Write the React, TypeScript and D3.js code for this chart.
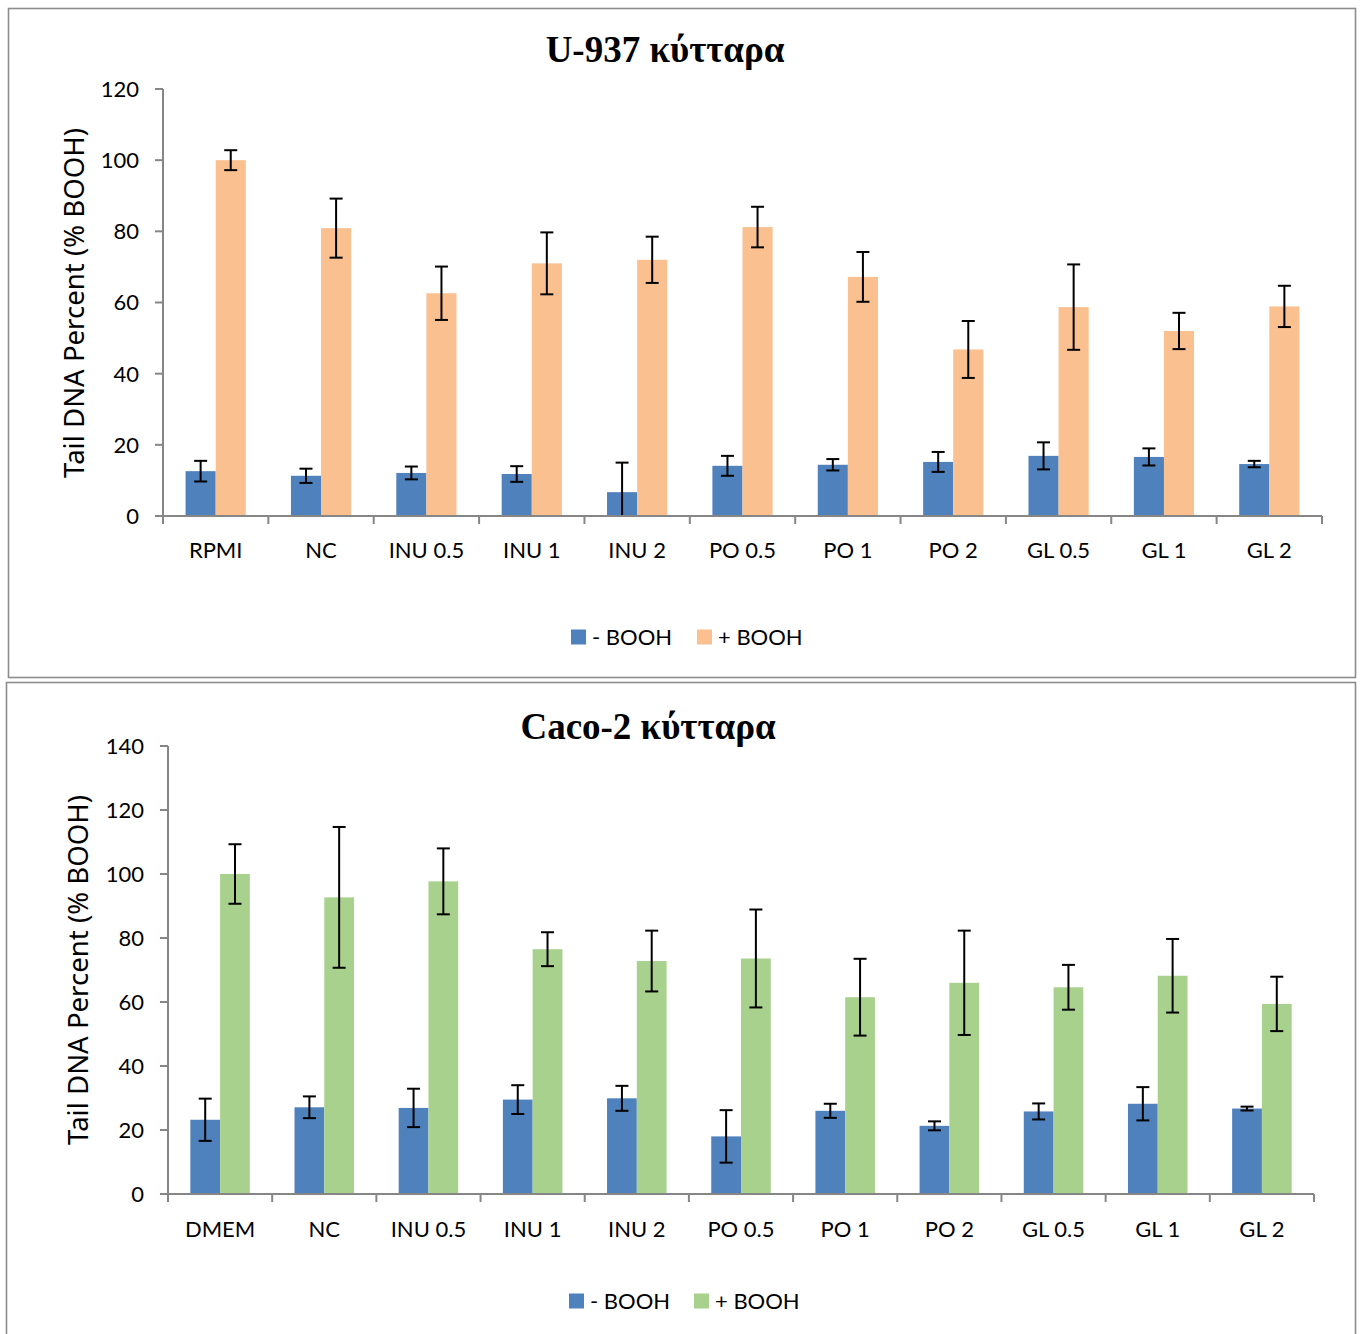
import React from "react";
import * as d3 from "d3";

// Comet assay results: tail DNA percent, without / with BOOH treatment
const u937Categories = ["RPMI", "NC", "INU 0.5", "INU 1", "INU 2", "PO 0.5", "PO 1", "PO 2", "GL 0.5", "GL 1", "GL 2"];
const u937Minus = [12.6, 11.3, 12.1, 11.8, 6.7, 14.1, 14.4, 15.2, 16.9, 16.6, 14.6];
const u937MinusErr = [2.9, 2.0, 1.8, 2.2, 8.3, 2.8, 1.6, 2.8, 3.8, 2.4, 0.9];
const u937Plus = [100, 80.9, 62.6, 71.0, 72.0, 81.2, 67.2, 46.8, 58.7, 52.0, 58.9];
const u937PlusErr = [2.8, 8.3, 7.5, 8.7, 6.5, 5.7, 7.0, 8.0, 12.0, 5.1, 5.8];
const u937Ticks = [0, 20, 40, 60, 80, 100, 120];

const caco2Categories = ["DMEM", "NC", "INU 0.5", "INU 1", "INU 2", "PO 0.5", "PO 1", "PO 2", "GL 0.5", "GL 1", "GL 2"];
const caco2Minus = [23.2, 27.1, 26.9, 29.5, 29.9, 18.0, 26.0, 21.3, 25.8, 28.2, 26.7];
const caco2MinusErr = [6.6, 3.4, 6.0, 4.5, 3.9, 8.2, 2.2, 1.4, 2.5, 5.2, 0.6];
const caco2Plus = [100, 92.7, 97.7, 76.5, 72.8, 73.6, 61.5, 66.0, 64.6, 68.2, 59.4];
const caco2PlusErr = [9.3, 22.0, 10.3, 5.3, 9.5, 15.3, 12.0, 16.3, 7.0, 11.5, 8.5];
const caco2Ticks = [0, 20, 40, 60, 80, 100, 120, 140];

const seriesNames = ["- BOOH", "+ BOOH"];
const yAxisTitle = "Tail DNA Percent (% BOOH)";

const BLUE = "#4F81BD";
const ORANGE = "#FAC090";
const GREEN = "#A9D18E";
const AXIS = "#868686";
const FRAME = "#8C8C8C";
const LABEL_FONT = "Lato, 'Open Sans', sans-serif";
const TITLE_FONT = "'Liberation Serif', 'DejaVu Serif', serif";
const AXIS_TITLE_FONT = "'Noto Sans', 'Open Sans', sans-serif";

type PanelProps = {
  title: string;
  categories: string[];
  minus: number[];
  minusErr: number[];
  plus: number[];
  plusErr: number[];
  ticks: number[];
  plusColor: string;
  frame: { x: number; y: number; w: number; h: number };
  left: number;
  right: number;
  bottom: number;
  top: number;
  titleX: number;
  titleY: number;
  axisTitleX: number;
  axisTitleY: number;
  tickLabelX: number;
  catLabelY: number;
  legendY: number;
  legendX: number[];
};

function Panel(p: PanelProps) {
  const yMax = p.ticks[p.ticks.length - 1];
  const y = d3.scaleLinear().domain([0, yMax]).range([p.bottom, p.top]);
  const x0 = d3.scaleBand<string>().domain(p.categories).range([p.left, p.right]).paddingInner(0).paddingOuter(0);
  const step = x0.step();
  // two bars per group, gap equal to 150% of a bar width
  const x1 = d3
    .scaleBand<string>()
    .domain(["minus", "plus"])
    .range([(step * 0.75) / 3.5, (step * 2.75) / 3.5])
    .padding(0);
  const bw = x1.bandwidth();
  const capHalf = 6.5;

  const series = [
    { key: "minus", values: p.minus, errs: p.minusErr, color: BLUE },
    { key: "plus", values: p.plus, errs: p.plusErr, color: p.plusColor },
  ];

  const boundaries = d3.range(p.categories.length + 1).map((i) => p.left + i * step);

  return (
    <g>
      <rect x={p.frame.x} y={p.frame.y} width={p.frame.w} height={p.frame.h} fill="#fff" stroke={FRAME} strokeWidth={1.6} />
      <text
        x={p.titleX}
        y={p.titleY}
        textAnchor="middle"
        fontFamily={TITLE_FONT}
        fontWeight="bold"
        fontSize={37}
        fill="#000"
      >
        {p.title}
      </text>

      {/* bars */}
      {series.map((s) =>
        p.categories.map((c, i) => (
          <rect
            key={s.key + c}
            x={(x0(c) as number) + (x1(s.key) as number)}
            y={y(s.values[i])}
            width={bw}
            height={y(0) - y(s.values[i])}
            fill={s.color}
          />
        ))
      )}

      {/* error bars */}
      {series.map((s) =>
        p.categories.map((c, i) => {
          const cx = (x0(c) as number) + (x1(s.key) as number) + bw / 2;
          const hiV = s.values[i] + s.errs[i];
          const loRaw = s.values[i] - s.errs[i];
          const lo = Math.max(0, loRaw);
          return (
            <g key={"e" + s.key + c} stroke="#000" strokeWidth={2}>
              <line x1={cx} x2={cx} y1={y(hiV)} y2={y(lo)} />
              <line x1={cx - capHalf} x2={cx + capHalf} y1={y(hiV)} y2={y(hiV)} />
              {loRaw >= 0 && <line x1={cx - capHalf} x2={cx + capHalf} y1={y(lo)} y2={y(lo)} />}
            </g>
          );
        })
      )}

      {/* y axis */}
      <line x1={p.left} x2={p.left} y1={y(yMax)} y2={y(0)} stroke={AXIS} strokeWidth={2} />
      {p.ticks.map((t) => (
        <g key={"yt" + t}>
          <line x1={p.left - 8} x2={p.left} y1={y(t)} y2={y(t)} stroke={AXIS} strokeWidth={2} />
          <text
            x={p.tickLabelX}
            y={y(t)}
            dy="0.36em"
            textAnchor="end"
            fontFamily={LABEL_FONT}
            fontSize={22}
            fill="#000"
          >
            {t}
          </text>
        </g>
      ))}

      {/* x axis */}
      <line x1={p.left - 8} x2={p.right} y1={y(0)} y2={y(0)} stroke={AXIS} strokeWidth={2} />
      {boundaries.map((bx, i) => (
        <line key={"xt" + i} x1={bx} x2={bx} y1={y(0)} y2={y(0) + 8} stroke={AXIS} strokeWidth={2} />
      ))}
      {p.categories.map((c) => (
        <text
          key={"xl" + c}
          x={(x0(c) as number) + step / 2}
          y={p.catLabelY}
          textAnchor="middle"
          fontFamily={LABEL_FONT}
          fontSize={22}
          fill="#000"
        >
          {c}
        </text>
      ))}

      {/* y axis title */}
      <text
        transform={`translate(${p.axisTitleX},${p.axisTitleY}) rotate(-90)`}
        textAnchor="middle"
        fontFamily={AXIS_TITLE_FONT}
        fontSize={27}
        textLength={350}
        lengthAdjust="spacingAndGlyphs"
        fill="#000"
      >
        {yAxisTitle}
      </text>

      {/* legend */}
      {seriesNames.map((name, i) => (
        <g key={"lg" + name}>
          <rect x={p.legendX[i]} y={p.legendY - 7.5} width={15} height={15} fill={series[i].color} />
          <text
            x={p.legendX[i] + 21}
            y={p.legendY}
            dy="0.36em"
            fontFamily={LABEL_FONT}
            fontSize={22}
            fill="#000"
          >
            {name}
          </text>
        </g>
      ))}
    </g>
  );
}

export default function App() {
  return (
    <svg
      width={1362}
      height={1334}
      style={{ position: "absolute", left: 0, top: 0, background: "#fff" }}
    >
      <rect x={0} y={0} width={1362} height={1334} fill="#fff" />
      <Panel
        title="U-937 κύτταρα"
        categories={u937Categories}
        minus={u937Minus}
        minusErr={u937MinusErr}
        plus={u937Plus}
        plusErr={u937PlusErr}
        ticks={u937Ticks}
        plusColor={ORANGE}
        frame={{ x: 8.5, y: 8.5, w: 1347, h: 669 }}
        left={163}
        right={1322}
        bottom={516}
        top={89}
        titleX={665}
        titleY={62}
        axisTitleX={84}
        axisTitleY={303}
        tickLabelX={139}
        catLabelY={558}
        legendY={637}
        legendX={[571, 697]}
      />
      <Panel
        title="Caco-2 κύτταρα"
        categories={caco2Categories}
        minus={caco2Minus}
        minusErr={caco2MinusErr}
        plus={caco2Plus}
        plusErr={caco2PlusErr}
        ticks={caco2Ticks}
        plusColor={GREEN}
        frame={{ x: 6.5, y: 682.5, w: 1349, h: 670 }}
        left={168}
        right={1314}
        bottom={1194}
        top={746}
        titleX={648}
        titleY={739}
        axisTitleX={88}
        axisTitleY={970}
        tickLabelX={144}
        catLabelY={1237}
        legendY={1301}
        legendX={[569, 694]}
      />
    </svg>
  );
}
